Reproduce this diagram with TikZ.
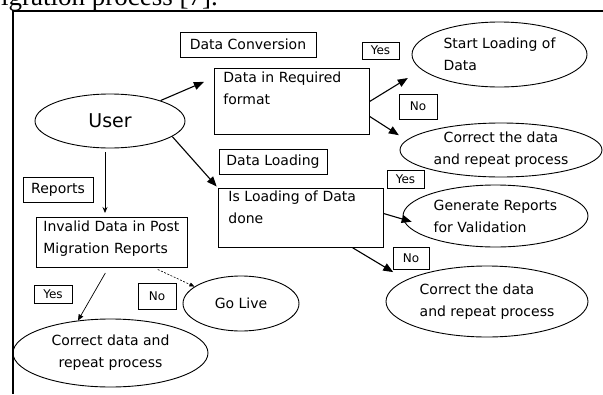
\documentclass[tikz,border=0pt]{standalone}
\usepackage{fontspec}
\setmainfont{DejaVu Sans}
\newfontfamily\capfont{Liberation Serif}
\usetikzlibrary{shapes.geometric,arrows.meta}

\begin{document}
\begin{tikzpicture}
[x=1pt,y=-1pt,
  boxlabel/.style={draw,line width=0.8pt,inner sep=0pt,font=\fontsize{14}{22}\selectfont},%
  yesno/.style={draw,line width=0.8pt,inner sep=0pt,font=\fontsize{12}{14}\selectfont},%
  tallbox/.style={draw,line width=0.8pt,anchor=north west,align=left,inner ysep=3pt,font=\fontsize{14}{22}\selectfont},%
  oval/.style={ellipse,draw,line width=0.9pt,inner sep=0pt,font=\fontsize{14}{22}\selectfont},%
  flowarrow/.style={-{Triangle[length=10pt,width=8pt]},line width=1.1pt},%
  thinarrow/.style={-{Triangle[length=6pt,width=5pt]},line width=0.7pt},%
  dotarrow/.style={-{Triangle[length=5pt,width=4pt]},line width=0.6pt,dash pattern=on 2pt off 1.5pt}]
\useasboundingbox (0,0) rectangle (603,394);
%% caption and frame
\node (caption) [anchor=base east,inner sep=0pt,font=\fontsize{27}{30}\capfont] at (218,5) {igration process [7].};
\draw[line width=1.1pt] (603,11) -- (13,11) -- (13,394);
%% ellipses
\node (user) [oval,minimum width=150pt,minimum height=54pt,font=\fontsize{19}{22}\selectfont] at (110,121) {User};
\node (start) [oval,align=left,minimum width=175pt,minimum height=65pt] at (499.5,54.5) {Start Loading of\\Data};
\node (corr1) [oval,align=center,minimum width=202pt,minimum height=54pt] at (501,150) {Correct the data\\and repeat process};
\node (gen) [oval,align=left,minimum width=185pt,minimum height=62pt] at (495.5,216) {Generate Reports\\for Validation};
\node (corr2) [oval,align=left,minimum width=202pt,minimum height=71pt] at (487,301.5) {Correct the data\\and repeat process};
\node (golive) [oval,minimum width=116pt,minimum height=55pt] at (241,303.5) {Go Live};
\node (corrd) [oval,align=center,minimum width=195pt,minimum height=68pt] at (110.5,353) {Correct data and\\repeat process};
%% boxes
\node (conv) [boxlabel,minimum width=136pt,minimum height=25pt] at (248,44.5) {Data Conversion};
\node (load) [boxlabel,minimum width=108pt,minimum height=25pt] at (273,161.5) {Data Loading};
\node (reports) [boxlabel,minimum width=70pt,minimum height=25pt] at (58,189.5) {Reports};
\node (req) [tallbox,text width=137pt,inner xsep=9pt,text height=11pt,text depth=49pt] at (214,68) {Data in Required\\format};
\node (isload) [tallbox,text width=145pt,inner xsep=10pt,text height=10pt,text depth=43pt] at (218,188) {Is Loading of Data\\done};
\node (inv) [tallbox,text width=137pt,inner xsep=7pt,text height=11pt,text depth=33pt] at (36,217) {Invalid Data in Post\\Migration Reports};
%% yes / no labels
\node (yes1) [yesno,minimum width=37pt,minimum height=17pt] at (380.5,50.5) {Yes};
\node (no1) [yesno,minimum width=38pt,minimum height=25pt] at (418,106.5) {No};
\node (yes2) [yesno,minimum width=37pt,minimum height=18pt] at (405.5,179) {Yes};
\node (no2) [yesno,minimum width=36pt,minimum height=22pt] at (411,258) {No};
\node (yes3) [yesno,minimum width=38pt,minimum height=18pt] at (53,294) {Yes};
\node (no3) [yesno,minimum width=38pt,minimum height=26pt] at (157,296) {No};
%% connectors
\draw[flowarrow,shorten >=11pt] (user.22) -- (req.163);
\draw[flowarrow,shorten >=2pt] (user.-14) -- (isload.north west);
\draw[-{Stealth[length=6pt,width=5pt]},line width=0.8pt,shorten <=4pt,shorten >=4pt]
  ([xshift=-5pt]user.south) -- ([xshift=-5pt]user.south |- inv.north);
\draw[flowarrow,shorten >=16pt] (req.east) -- (start.191);
\draw[flowarrow,shorten >=9pt] (req.-11) -- (corr1.174);
\draw[flowarrow,shorten >=-9pt] (isload.3) -- (gen.182);
\draw[flowarrow,shorten >=15pt] (isload.-30) -- (corr2.165);
\draw[thinarrow,shorten <=6pt] (inv.262) -- (corrd.135);
\draw[dotarrow,shorten <=4pt] (inv.-31) -- (golive.160);
\end{tikzpicture}
\end{document}
